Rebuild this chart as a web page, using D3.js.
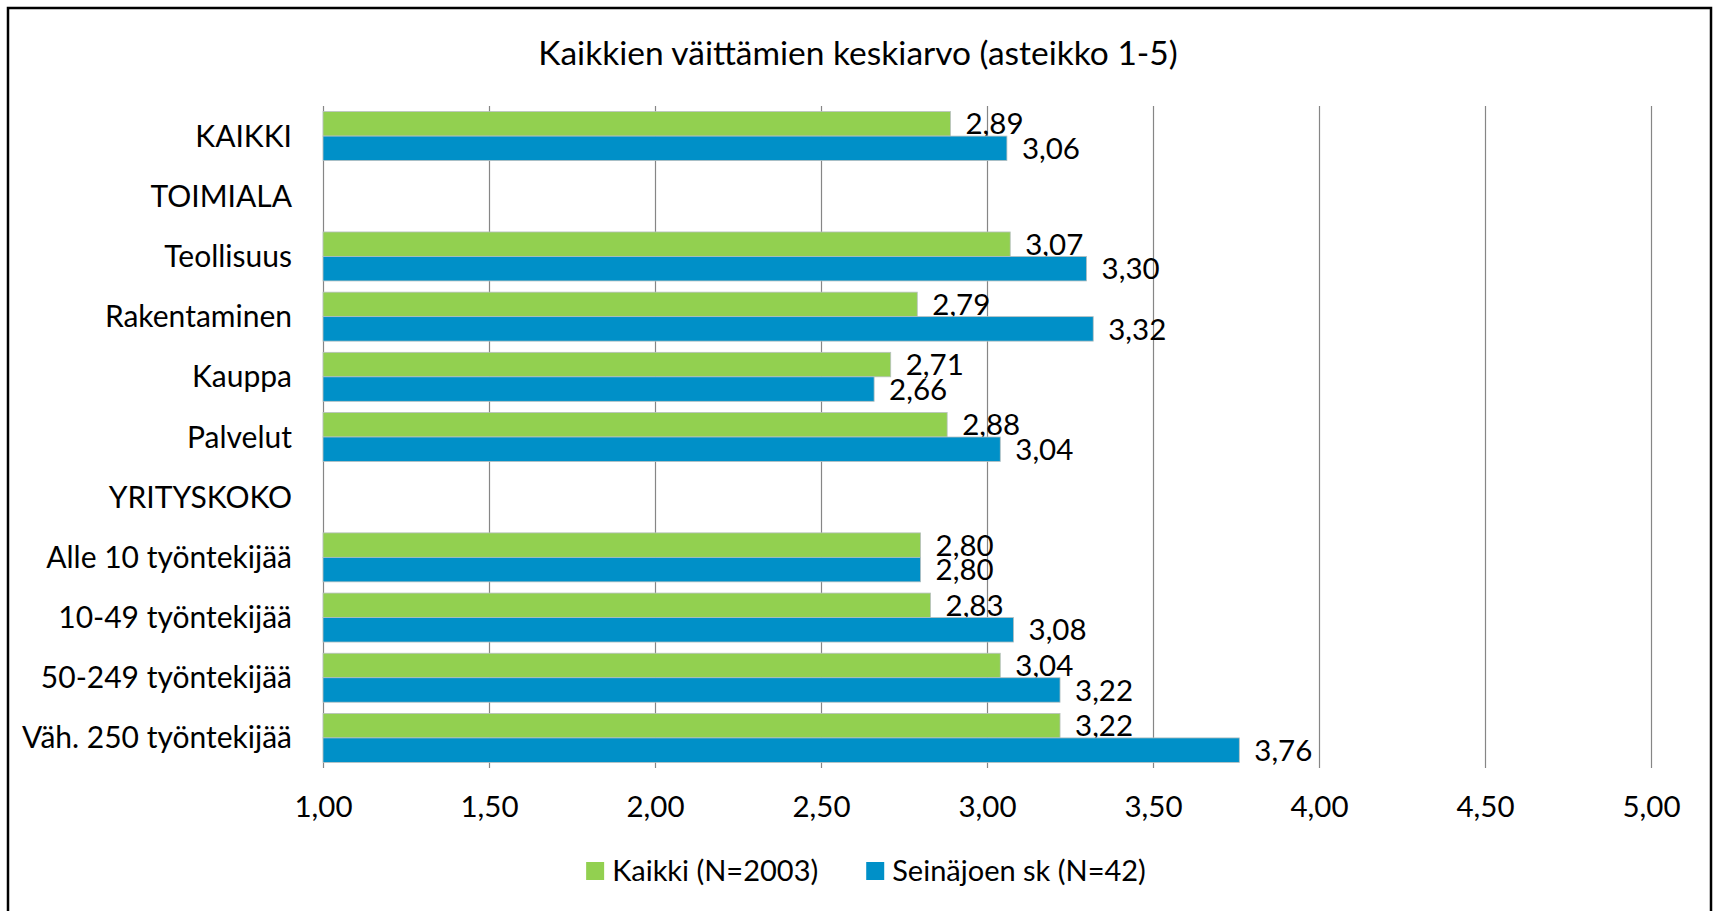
<!DOCTYPE html>
<html>
<head>
<meta charset="utf-8">
<script src="https://cdn.jsdelivr.net/npm/d3@7"></script>
<style>
  body { margin: 0; background: #fff; }
  text { font-family: Lato, "Open Sans", sans-serif; fill: #000; }
</style>
</head>
<body>
<div id="chart"></div>
<script>
// data
var categories = ['KAIKKI', 'TOIMIALA', 'Teollisuus', 'Rakentaminen', 'Kauppa', 'Palvelut',
  'YRITYSKOKO', 'Alle 10 työntekijää', '10-49 työntekijää', '50-249 työntekijää', 'Väh. 250 työntekijää'];
var seriesNames = ['Kaikki (N=2003)', 'Seinäjoen sk (N=42)'];
var kaikki = [2.89, null, 3.07, 2.79, 2.71, 2.88, null, 2.80, 2.83, 3.04, 3.22];
var seinajoki = [3.06, null, 3.30, 3.32, 2.66, 3.04, null, 2.80, 3.08, 3.22, 3.76];
var xTicks = [1, 1.5, 2, 2.5, 3, 3.5, 4, 4.5, 5];
var colors = ['#92d050', '#0090c8'];

var width = 1717, height = 911;
var plot = {left: 323, right: 1651, top: 106, bottom: 768};
var fontSize = 29.5;

var fi = d3.formatLocale({decimal: ',', thousands: ' ', grouping: [3], currency: ['', '€']});
var fmt = fi.format('.2f');

var svg = d3.select('#chart').append('svg')
    .attr('width', width)
    .attr('height', height);

// outer frame
svg.append('rect')
    .attr('x', 8).attr('y', 8)
    .attr('width', 1703).attr('height', 940)
    .attr('fill', 'none')
    .attr('stroke', '#000')
    .attr('stroke-width', 2.5);

// title
svg.append('text')
    .attr('x', 858)
    .attr('y', 65)
    .attr('text-anchor', 'middle')
    .attr('font-size', 33.5)
    .text('Kaikkien väittämien keskiarvo (asteikko 1-5)');

var x = d3.scaleLinear().domain([1, 5]).range([plot.left, plot.right]);
var y = d3.scaleBand().domain(categories).range([plot.top, plot.bottom])
    .paddingInner(0.186).paddingOuter(0.093);
var y1 = d3.scaleBand().domain([0, 1]).range([0, y.bandwidth()]);

// x axis with gridlines
var xAxis = svg.append('g')
    .attr('transform', 'translate(0,' + plot.bottom + ')')
    .call(d3.axisBottom(x).tickValues(xTicks).tickFormat(fmt)
      .tickSize(-(plot.bottom - plot.top)).tickPadding(28));
xAxis.select('.domain').remove();
xAxis.selectAll('line').attr('stroke', '#868686').attr('stroke-width', 1.2);
xAxis.selectAll('text').attr('font-size', fontSize).attr('font-family', 'Lato');

// category labels
svg.append('g').selectAll('text')
    .data(categories)
    .enter().append('text')
    .attr('x', 292)
    .attr('y', function(d) { return y(d) + y.bandwidth() / 2; })
    .attr('dy', '0.35em')
    .attr('text-anchor', 'end')
    .attr('font-size', 30)
    .text(function(d) { return d; });

// bars
var seriesData = [kaikki, seinajoki];
seriesData.forEach(function(vals, s) {
  var rows = categories.map(function(c, i) { return {cat: c, v: vals[i]}; })
      .filter(function(d) { return d.v !== null; });

  svg.append('g').selectAll('rect')
      .data(rows)
      .enter().append('rect')
      .attr('x', x(1))
      .attr('y', function(d) { return y(d.cat) + y1(s); })
      .attr('width', function(d) { return x(d.v) - x(1); })
      .attr('height', y1.bandwidth())
      .attr('fill', colors[s])
      .attr('stroke', '#b8c0c0')
      .attr('stroke-width', 0.8);

  svg.append('g').selectAll('text')
      .data(rows)
      .enter().append('text')
      .attr('x', function(d) { return x(d.v) + 15; })
      .attr('y', function(d) { return y(d.cat) + y1(s) + y1.bandwidth() / 2; })
      .attr('dy', '0.36em')
      .attr('font-size', fontSize)
      .text(function(d) { return fmt(d.v); });
});

// legend, centred under the plot
var legend = svg.append('g');
var lx = 0;
seriesNames.forEach(function(name, i) {
  var item = legend.append('g').attr('transform', 'translate(' + lx + ',0)');
  item.append('rect')
      .attr('x', 0).attr('y', -9)
      .attr('width', 18).attr('height', 18)
      .attr('fill', colors[i]);
  var t = item.append('text')
      .attr('x', 26)
      .attr('dy', '0.36em')
      .attr('font-size', 29)
      .text(name);
  lx += 26 + t.node().getComputedTextLength() + 48;
});
var lw = lx - 48;
legend.attr('transform', 'translate(' + (866 - lw / 2) + ',871)');
</script>
</body>
</html>
